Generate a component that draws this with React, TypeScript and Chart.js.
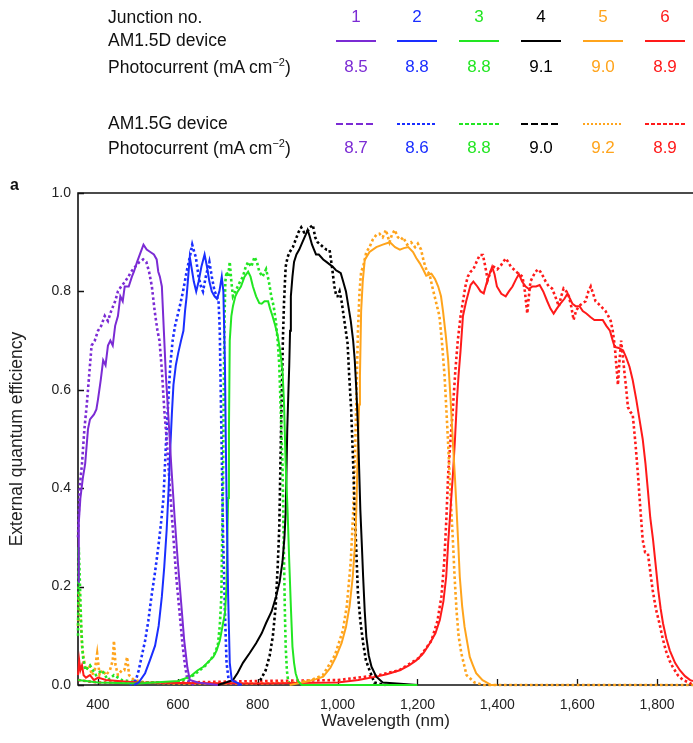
import React, { useEffect, useRef } from "react";
import { Chart, registerables } from "chart.js";

Chart.register(...registerables);

type Pt = [number, number];

// Tick values
const xTickValues = [400, 600, 800, 1000, 1200, 1400, 1600, 1800];
const yTickValues = [0, 0.2, 0.4, 0.6, 0.8, 1.0];

// Legend data
const junctionNumbers = ["1", "2", "3", "4", "5", "6"];
const junctionColors = ["#7B2BD4", "#1A2EFF", "#22E622", "#000000", "#FFA41C", "#FF1A1A"];
const photocurrentD = ["8.5", "8.8", "8.8", "9.1", "9.0", "8.9"];
const photocurrentG = ["8.7", "8.6", "8.8", "9.0", "9.2", "8.9"];
const legendDashes = ["7 3", "3 2", "4 2", "7 3", "2 2", "4 2"];

// EQE data: [wavelength nm, EQE]
const j1D: Pt[] = [[350,0.21],[352,0.33],[356,0.38],[362,0.42],[368,0.45],[375,0.52],[380,0.54],[390,0.55],[396,0.56],[400,0.58],[407,0.62],[413,0.66],[419,0.65],[425,0.69],[431,0.70],[437,0.69],[443,0.73],[450,0.75],[456,0.79],[462,0.78],[467,0.81],[477,0.81],[485,0.83],[490,0.84],[498,0.86],[507,0.88],[514,0.895],[522,0.885],[531,0.88],[540,0.875],[547,0.865],[551,0.84],[555,0.83],[560,0.81],[565,0.72],[570,0.63],[576,0.55],[584,0.44],[592,0.34],[600,0.25],[608,0.17],[616,0.09],[624,0.035],[630,0.01],[650,0.005],[700,0]];
const j1G: Pt[] = [[350,0.30],[354,0.40],[360,0.45],[366,0.52],[372,0.57],[378,0.63],[384,0.69],[392,0.70],[400,0.72],[408,0.73],[417,0.75],[425,0.74],[433,0.76],[443,0.78],[450,0.80],[458,0.81],[468,0.82],[476,0.83],[483,0.84],[493,0.85],[504,0.86],[513,0.865],[521,0.86],[528,0.84],[535,0.81],[542,0.76],[549,0.72],[554,0.70],[560,0.64],[566,0.56],[573,0.49],[580,0.40],[588,0.31],[596,0.22],[604,0.15],[612,0.08],[618,0.04],[624,0.01],[640,0]];
const j2D: Pt[] = [[490,0],[502,0.005],[518,0.024],[530,0.05],[543,0.08],[552,0.12],[560,0.18],[566,0.24],[572,0.315],[577,0.40],[581,0.48],[585,0.55],[589,0.61],[595,0.65],[601,0.675],[608,0.70],[614,0.72],[618,0.76],[622,0.79],[626,0.83],[630,0.87],[634,0.85],[640,0.82],[646,0.80],[652,0.82],[659,0.85],[667,0.875],[673,0.85],[679,0.82],[685,0.80],[692,0.79],[698,0.785],[704,0.80],[710,0.83],[714,0.80],[718,0.65],[720,0.50],[722,0.38],[726,0.18],[730,0.045],[735,0.01],[760,0]];
const j2G: Pt[] = [[480,0],[495,0.01],[502,0.03],[510,0.06],[518,0.09],[526,0.13],[534,0.18],[543,0.23],[551,0.28],[558,0.33],[564,0.38],[568,0.45],[572,0.52],[577,0.59],[581,0.65],[587,0.70],[593,0.73],[599,0.75],[605,0.77],[613,0.80],[622,0.84],[630,0.87],[636,0.895],[641,0.88],[645,0.87],[652,0.83],[658,0.81],[663,0.80],[670,0.83],[679,0.86],[685,0.83],[692,0.80],[698,0.79],[702,0.78],[705,0.72],[709,0.52],[713,0.31],[718,0.146],[722,0.045],[728,0.005],[760,0]];
const j3D: Pt[] = [[350,0.01],[400,0.005],[500,0.003],[600,0.008],[631,0.017],[650,0.03],[664,0.037],[680,0.05],[689,0.057],[697,0.07],[705,0.09],[712,0.12],[718,0.146],[722,0.20],[724,0.30],[726,0.38],[728,0.52],[730,0.70],[734,0.75],[738,0.77],[744,0.79],[750,0.80],[758,0.81],[767,0.83],[776,0.84],[782,0.83],[788,0.81],[796,0.79],[804,0.776],[810,0.775],[817,0.78],[826,0.78],[831,0.765],[837,0.75],[844,0.73],[850,0.71],[856,0.68],[862,0.64],[866,0.57],[870,0.45],[875,0.35],[879,0.25],[883,0.16],[887,0.078],[891,0.045],[895,0.024],[901,0.008],[910,0],[1200,0]];
const j3G: Pt[] = [[350,0.10],[352,0.28],[355,0.20],[358,0.12],[362,0.06],[368,0.03],[380,0.04],[395,0.02],[410,0.03],[425,0.01],[440,0.02],[460,0.01],[500,0.005],[600,0.005],[640,0.02],[670,0.04],[690,0.06],[700,0.08],[705,0.12],[709,0.18],[711,0.30],[713,0.40],[715,0.60],[717,0.75],[719,0.82],[722,0.84],[726,0.83],[730,0.86],[734,0.82],[738,0.79],[744,0.80],[750,0.81],[756,0.82],[763,0.83],[770,0.85],[776,0.86],[784,0.85],[792,0.87],[798,0.86],[804,0.84],[812,0.83],[821,0.845],[828,0.82],[834,0.79],[840,0.77],[846,0.735],[850,0.70],[854,0.65],[858,0.55],[862,0.45],[866,0.25],[868,0.15],[870,0.08],[873,0.03],[876,0.01],[882,0]];
const j4D: Pt[] = [[700,0],[738,0.01],[750,0.025],[763,0.045],[780,0.065],[796,0.085],[810,0.105],[821,0.126],[835,0.15],[846,0.18],[855,0.21],[862,0.25],[867,0.30],[870,0.35],[872,0.43],[874,0.52],[877,0.60],[879,0.65],[881,0.72],[883,0.79],[887,0.83],[891,0.86],[897,0.875],[904,0.885],[912,0.90],[920,0.915],[925,0.925],[929,0.915],[936,0.895],[941,0.885],[946,0.875],[953,0.875],[964,0.865],[972,0.86],[980,0.855],[988,0.85],[996,0.843],[1002,0.84],[1008,0.837],[1014,0.82],[1021,0.80],[1027,0.77],[1033,0.74],[1039,0.70],[1043,0.66],[1047,0.60],[1051,0.525],[1054,0.44],[1057,0.356],[1061,0.28],[1064,0.22],[1068,0.15],[1072,0.098],[1078,0.06],[1085,0.037],[1097,0.017],[1113,0.005],[1200,0]];
const j4G: Pt[] = [[800,0],[820,0.03],[830,0.06],[838,0.10],[845,0.16],[850,0.24],[854,0.32],[858,0.50],[861,0.62],[863,0.70],[866,0.78],[870,0.85],[875,0.87],[880,0.88],[888,0.89],[895,0.905],[902,0.92],[909,0.93],[916,0.92],[923,0.92],[931,0.93],[938,0.935],[944,0.91],[950,0.90],[957,0.895],[964,0.89],[972,0.885],[980,0.884],[986,0.85],[992,0.81],[997,0.79],[1000,0.79],[1005,0.80],[1010,0.78],[1017,0.74],[1025,0.695],[1029,0.63],[1034,0.56],[1039,0.45],[1043,0.356],[1047,0.27],[1051,0.186],[1057,0.13],[1064,0.085],[1071,0.05],[1080,0.03],[1092,0.005],[1120,0]];
const j5D: Pt[] = [[880,0],[905,0.004],[929,0.008],[946,0.012],[964,0.017],[982,0.035],[996,0.057],[1010,0.085],[1021,0.118],[1030,0.16],[1038,0.22],[1044,0.29],[1047,0.356],[1051,0.49],[1054,0.57],[1056,0.627],[1059,0.76],[1063,0.82],[1068,0.864],[1080,0.88],[1097,0.89],[1113,0.895],[1131,0.90],[1144,0.89],[1156,0.885],[1166,0.888],[1177,0.89],[1189,0.88],[1197,0.868],[1206,0.857],[1214,0.845],[1222,0.832],[1235,0.836],[1244,0.825],[1252,0.81],[1259,0.79],[1264,0.76],[1271,0.71],[1277,0.66],[1283,0.58],[1289,0.49],[1294,0.42],[1298,0.356],[1302,0.29],[1306,0.22],[1312,0.16],[1318,0.118],[1325,0.085],[1331,0.057],[1339,0.04],[1347,0.024],[1363,0.01],[1385,0],[1400,0]];
const j5G: Pt[] = [[350,0.12],[353,0.19],[356,0.15],[360,0.08],[365,0.05],[370,0.03],[378,0.04],[385,0.02],[392,0.03],[398,0.064],[404,0.02],[412,0.03],[420,0.02],[430,0.03],[437,0.05],[440,0.09],[444,0.04],[450,0.02],[460,0.03],[466,0.03],[473,0.057],[478,0.02],[490,0.01],[520,0.005],[600,0.003],[800,0.003],[900,0.005],[933,0.01],[963,0.02],[993,0.06],[1013,0.11],[1023,0.16],[1033,0.25],[1039,0.35],[1043,0.45],[1047,0.58],[1051,0.72],[1055,0.80],[1059,0.84],[1064,0.85],[1072,0.88],[1080,0.89],[1088,0.905],[1097,0.915],[1105,0.917],[1113,0.91],[1121,0.925],[1130,0.90],[1136,0.915],[1143,0.925],[1151,0.91],[1159,0.905],[1164,0.91],[1174,0.895],[1184,0.90],[1194,0.89],[1201,0.897],[1209,0.885],[1216,0.86],[1224,0.84],[1230,0.836],[1237,0.81],[1243,0.79],[1249,0.77],[1255,0.75],[1261,0.70],[1268,0.627],[1275,0.52],[1281,0.42],[1285,0.35],[1289,0.29],[1293,0.22],[1298,0.15],[1303,0.10],[1310,0.064],[1323,0.02],[1343,0.005],[1365,0],[1890,0]];
const j6D: Pt[] = [[350,0.02],[353,0.05],[356,0.03],[360,0.04],[364,0.02],[370,0.015],[380,0.02],[390,0.01],[400,0.015],[420,0.01],[450,0.008],[500,0.005],[600,0.004],[800,0.003],[1000,0.005],[1052,0.01],[1097,0.017],[1123,0.022],[1156,0.03],[1179,0.04],[1197,0.05],[1215,0.065],[1231,0.085],[1245,0.105],[1256,0.132],[1265,0.17],[1272,0.22],[1277,0.29],[1283,0.36],[1289,0.43],[1294,0.50],[1299,0.58],[1303,0.63],[1308,0.68],[1314,0.75],[1322,0.78],[1333,0.813],[1340,0.82],[1350,0.81],[1358,0.80],[1366,0.796],[1376,0.825],[1387,0.85],[1393,0.835],[1399,0.81],[1410,0.795],[1421,0.79],[1429,0.80],[1438,0.81],[1447,0.825],[1454,0.835],[1462,0.82],[1471,0.81],[1479,0.805],[1488,0.81],[1497,0.81],[1506,0.813],[1515,0.80],[1525,0.78],[1533,0.765],[1541,0.755],[1549,0.765],[1558,0.775],[1568,0.785],[1576,0.796],[1582,0.785],[1588,0.775],[1596,0.77],[1606,0.77],[1614,0.76],[1623,0.755],[1633,0.748],[1643,0.742],[1654,0.742],[1664,0.742],[1673,0.73],[1682,0.72],[1689,0.70],[1694,0.687],[1704,0.685],[1715,0.68],[1723,0.665],[1731,0.647],[1739,0.62],[1748,0.58],[1756,0.54],[1764,0.50],[1771,0.45],[1777,0.396],[1783,0.34],[1790,0.295],[1797,0.24],[1803,0.193],[1809,0.155],[1815,0.125],[1823,0.095],[1832,0.07],[1845,0.045],[1857,0.03],[1870,0.018],[1883,0.01],[1890,0.008]];
const j6G: Pt[] = [[350,0.01],[400,0.005],[600,0.005],[800,0.008],[1000,0.01],[1103,0.02],[1154,0.03],[1204,0.055],[1235,0.09],[1250,0.13],[1260,0.18],[1267,0.25],[1272,0.33],[1277,0.43],[1283,0.50],[1289,0.565],[1295,0.64],[1301,0.70],[1308,0.75],[1314,0.78],[1320,0.81],[1326,0.83],[1333,0.84],[1340,0.845],[1348,0.86],[1356,0.874],[1364,0.874],[1370,0.85],[1376,0.823],[1383,0.84],[1391,0.85],[1400,0.845],[1409,0.853],[1415,0.86],[1421,0.867],[1427,0.86],[1434,0.85],[1441,0.845],[1447,0.84],[1455,0.835],[1463,0.83],[1469,0.80],[1475,0.755],[1479,0.79],[1483,0.82],[1489,0.83],[1496,0.84],[1502,0.845],[1508,0.84],[1515,0.83],[1521,0.82],[1529,0.81],[1537,0.806],[1545,0.79],[1554,0.77],[1560,0.79],[1566,0.806],[1573,0.80],[1579,0.79],[1585,0.77],[1591,0.742],[1597,0.76],[1604,0.77],[1612,0.775],[1621,0.78],[1628,0.80],[1634,0.81],[1640,0.795],[1646,0.78],[1653,0.775],[1659,0.77],[1665,0.765],[1671,0.76],[1678,0.75],[1684,0.74],[1689,0.72],[1694,0.69],[1698,0.65],[1702,0.61],[1706,0.66],[1710,0.70],[1714,0.67],[1719,0.63],[1723,0.60],[1727,0.565],[1733,0.555],[1739,0.55],[1746,0.49],[1752,0.43],[1758,0.36],[1764,0.295],[1770,0.27],[1777,0.268],[1783,0.23],[1789,0.193],[1797,0.155],[1806,0.125],[1814,0.095],[1822,0.07],[1831,0.05],[1839,0.037],[1852,0.02],[1865,0.01],[1880,0.005],[1890,0]];

const seriesD = [j1D, j2D, j3D, j4D, j5D, j6D];
const seriesG = [j1G, j2G, j3G, j4G, j5G, j6G];

const FONT = "'Liberation Sans', Arial, Helvetica, sans-serif";

const framePlugin = {
  id: "frame",
  beforeDatasetsDraw(chart: any) {
    const { ctx, chartArea, scales } = chart;
    const { left, right, top, bottom } = chartArea;
    ctx.save();
    ctx.strokeStyle = "#111";
    ctx.lineWidth = 1.6;
    ctx.beginPath();
    ctx.moveTo(right + 5, top);
    ctx.lineTo(left, top);
    ctx.lineTo(left, bottom);
    ctx.lineTo(right + 5, bottom);
    ctx.stroke();
    ctx.lineWidth = 1.3;
    ctx.beginPath();
    for (const v of yTickValues) {
      const py = Math.round(scales.y.getPixelForValue(v)) + 0.5;
      ctx.moveTo(left, py);
      ctx.lineTo(left + 6, py);
    }
    for (const v of xTickValues) {
      const px = Math.round(scales.x.getPixelForValue(v)) + 0.5;
      ctx.moveTo(px, bottom);
      ctx.lineTo(px, bottom - 6);
    }
    ctx.stroke();
    ctx.restore();
  },
};

function LegendBlock() {
  const colX = [356, 417, 479, 541, 603, 665];
  const textStyle = (top: number, left: number, extra: any = {}) => ({
    position: "absolute" as const,
    top,
    left,
    fontFamily: FONT,
    fontSize: 17.5,
    lineHeight: "20px",
    whiteSpace: "nowrap" as const,
    color: "#111",
    ...extra,
  });
  const centered = (top: number, cx: number, color: string, text: string) => (
    <div style={textStyle(top, cx - 20, { width: 40, textAlign: "center", color, fontSize: 17 })}>{text}</div>
  );
  const photo = (top: number) => (
    <div style={textStyle(top, 108)}>
      Photocurrent (mA cm<sup style={{ fontSize: 11, verticalAlign: "7px", lineHeight: 0 }}>−2</sup>)
    </div>
  );
  return (
    <>
      <div style={textStyle(7, 108)}>Junction no.</div>
      <div style={textStyle(30, 108)}>AM1.5D device</div>
      {photo(57)}
      <div style={textStyle(113, 108)}>AM1.5G device</div>
      {photo(138)}
      {junctionNumbers.map((n, i) => (
        <React.Fragment key={n}>
          {centered(7, colX[i], junctionColors[i], n)}
          {centered(57, colX[i], junctionColors[i], photocurrentD[i])}
          {centered(138, colX[i], junctionColors[i], photocurrentG[i])}
          <svg style={{ position: "absolute", left: colX[i] - 20, top: 37 }} width={40} height={8}>
            <line x1={0} y1={4} x2={40} y2={4} stroke={junctionColors[i]} strokeWidth={2.2} />
          </svg>
          <svg style={{ position: "absolute", left: colX[i] - 20, top: 120 }} width={40} height={8}>
            <line x1={0} y1={4} x2={40} y2={4} stroke={junctionColors[i]} strokeWidth={2} strokeDasharray={legendDashes[i]} />
          </svg>
        </React.Fragment>
      ))}
      <div style={textStyle(175, 10, { fontWeight: "bold", fontSize: 16 })}>a</div>
    </>
  );
}

export default function App() {
  const canvasRef = useRef<HTMLCanvasElement | null>(null);

  useEffect(() => {
    const canvas = canvasRef.current;
    if (!canvas) return;
    const datasets: any[] = [];
    seriesD.forEach((s, i) => {
      datasets.push({
        label: `Junction ${junctionNumbers[i]} AM1.5D`,
        data: s.map(([x, y]) => ({ x, y })),
        borderColor: junctionColors[i],
        borderWidth: 2,
        pointRadius: 0,
        tension: 0,
        clip: 4,
      });
    });
    seriesG.forEach((s, i) => {
      datasets.push({
        label: `Junction ${junctionNumbers[i]} AM1.5G`,
        data: s.map(([x, y]) => ({ x, y })),
        borderColor: junctionColors[i],
        borderWidth: 2.6,
        borderDash: [2.6, 2.6],
        pointRadius: 0,
        tension: 0,
        clip: 4,
      });
    });

    const chart = new Chart(canvas, {
      type: "line",
      data: { datasets },
      plugins: [framePlugin],
      options: {
        animation: false,
        responsive: false,
        devicePixelRatio: 1,
        layout: { padding: { top: 193, left: 0, right: 0, bottom: 0 } },
        plugins: { legend: { display: false }, tooltip: { enabled: false } },
        scales: {
          x: {
            type: "linear",
            min: 350,
            max: 1890,
            grid: { display: false },
            border: { display: false },
            afterBuildTicks: (s: any) => {
              s.ticks = xTickValues.map((v) => ({ value: v }));
            },
            afterFit: (s: any) => {
              s.height = 58;
            },
            ticks: {
              color: "#222",
              padding: 4,
              maxRotation: 0,
              font: { family: FONT, size: 14 },
              callback: (v: any) => Number(v).toLocaleString("en-US"),
            },
            title: {
              display: true,
              text: "Wavelength (nm)",
              color: "#222",
              font: { family: FONT, size: 17 },
              padding: { top: 0, bottom: 11 },
            },
          },
          y: {
            type: "linear",
            min: 0,
            max: 1,
            grid: { display: false },
            border: { display: false },
            afterBuildTicks: (s: any) => {
              s.ticks = yTickValues.map((v) => ({ value: v }));
            },
            afterFit: (s: any) => {
              s.width = 78;
            },
            ticks: {
              color: "#222",
              padding: -1,
              font: { family: FONT, size: 14 },
              callback: (v: any) => Number(v).toFixed(1),
            },
            title: {
              display: true,
              text: "External quantum efficiency",
              color: "#222",
              font: { family: FONT, size: 17.5 },
              padding: { top: 7, bottom: 0 },
            },
          },
        },
      },
    });
    return () => chart.destroy();
  }, []);

  return (
    <div style={{ position: "absolute", left: 0, top: 0, width: 693, height: 743, background: "#fff", overflow: "hidden" }}>
      <canvas ref={canvasRef} width={693} height={743} style={{ position: "absolute", left: 0, top: 0 }} />
      <LegendBlock />
    </div>
  );
}
